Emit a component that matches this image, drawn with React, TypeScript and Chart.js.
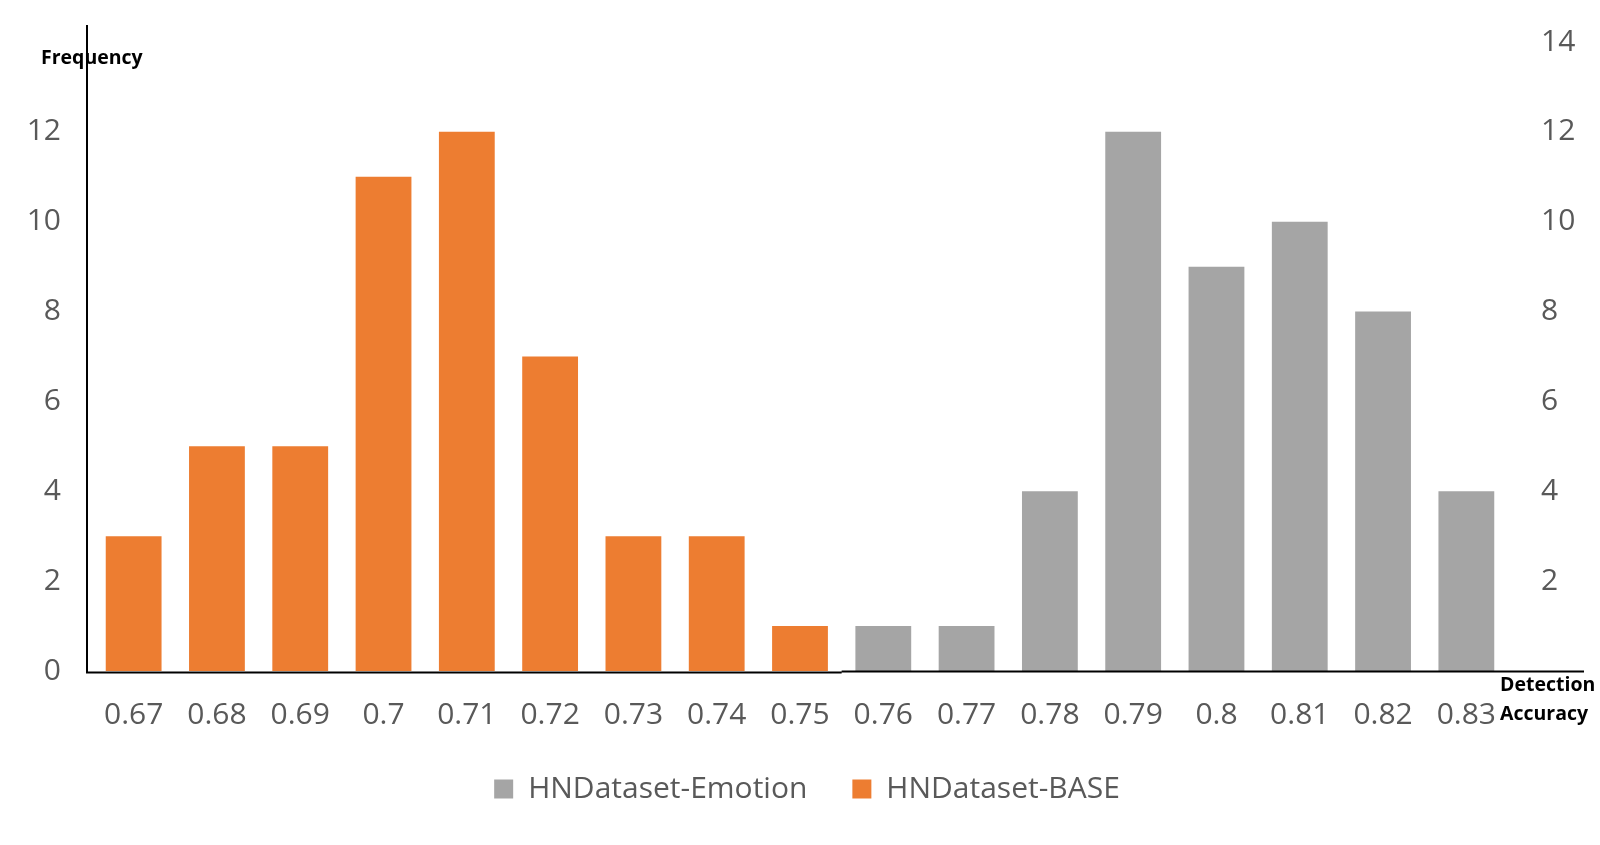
import { useEffect, useRef } from "react"
import { Chart, registerables } from "chart.js"

Chart.register(...registerables)

// Faixas de acurácia (eixo x)
const categories = [
  "0.67", "0.68", "0.69", "0.7", "0.71", "0.72", "0.73", "0.74", "0.75",
  "0.76", "0.77", "0.78", "0.79", "0.8", "0.81", "0.82", "0.83",
]

// Frequências por série (null onde a série não tem barra)
const baseValues = [3, 5, 5, 11, 12, 7, 3, 3, 1, null, null, null, null, null, null, null, null]
const emotionValues = [null, null, null, null, null, null, null, null, null, 1, 1, 4, 12, 9, 10, 8, 4]

const leftTicks = [0, 2, 4, 6, 8, 10, 12]
const rightTicks = [2, 4, 6, 8, 10, 12, 14]

const FONT = "'Open Sans', 'Noto Sans', sans-serif"
const GREY_TEXT = "#595959"

// Desenha as linhas dos eixos e os títulos horizontais
const axisDecor = {
  id: "axisDecor",
  afterDraw(chart: Chart) {
    const { ctx, chartArea } = chart
    const b = chartArea.bottom
    const split = chart.scales.x.getPixelForValue(8.5)
    ctx.save()
    ctx.strokeStyle = "#000"
    ctx.lineWidth = 2
    ctx.beginPath()
    ctx.moveTo(87, 25)
    ctx.lineTo(87, b + 2)
    ctx.moveTo(86, b + 1.5)
    ctx.lineTo(split, b + 1.5)
    ctx.moveTo(split, b + 0.5)
    ctx.lineTo(1584, b + 0.5)
    ctx.stroke()

    ctx.fillStyle = "#000"
    ctx.font = `bold 19.5px ${FONT}`
    ctx.textBaseline = "middle"
    ctx.textAlign = "left"
    ctx.fillText("Frequency", 41, 58)
    ctx.fillText("Detection", 1500, 685)
    ctx.fillText("Accuracy", 1500, 714)
    ctx.restore()
  },
}

// Remove o preenchimento vertical que o Chart.js soma às escalas y
const noVerticalPadding = (scale: any) => {
  scale.paddingTop = 0
  scale.paddingBottom = 0
}

export default function App() {
  const chartRef = useRef<HTMLCanvasElement>(null)
  const chartInstance = useRef<Chart | null>(null)

  useEffect(() => {
    if (!chartRef.current) return
    if (chartInstance.current) chartInstance.current.destroy()
    const ctx = chartRef.current.getContext("2d")
    if (!ctx) return

    chartInstance.current = new Chart(ctx, {
      type: "bar",
      data: {
        labels: categories,
        datasets: [
          {
            label: "HNDataset-Emotion",
            data: emotionValues,
            backgroundColor: "#A5A5A5",
            borderWidth: 0,
            yAxisID: "y",
          },
          {
            label: "HNDataset-BASE",
            data: baseValues,
            backgroundColor: "#ED7D31",
            borderWidth: 0,
            yAxisID: "y",
          },
        ],
      },
      options: {
        animation: false,
        responsive: true,
        maintainAspectRatio: false,
        layout: { padding: { top: 42, bottom: 31, left: 14, right: 0 } },
        datasets: {
          bar: {
            grouped: false,
            categoryPercentage: 0.67,
            barPercentage: 1,
          },
        },
        scales: {
          x: {
            grid: { display: false, drawTicks: false },
            border: { display: false },
            ticks: {
              color: GREY_TEXT,
              font: { family: FONT, size: 30 },
              padding: 26,
              maxRotation: 0,
              autoSkip: false,
            },
            afterFit: (scale: any) => {
              scale.height = 58
            },
          },
          y: {
            position: "left",
            min: 0,
            max: 14,
            grid: { display: false, drawTicks: false },
            border: { display: false },
            afterBuildTicks: (scale: any) => {
              scale.ticks = leftTicks.map((v) => ({ value: v }))
            },
            ticks: {
              color: GREY_TEXT,
              font: { family: FONT, size: 30 },
              padding: 31,
            },
            afterFit: (scale: any) => {
              scale.width = 78
              noVerticalPadding(scale)
            },
          },
          y1: {
            position: "right",
            min: 0,
            max: 14,
            grid: { display: false, drawTicks: false },
            border: { display: false },
            afterBuildTicks: (scale: any) => {
              scale.ticks = rightTicks.map((v) => ({ value: v }))
            },
            ticks: {
              color: GREY_TEXT,
              font: { family: FONT, size: 30 },
              padding: 33,
            },
            afterFit: (scale: any) => {
              scale.width = 92
              noVerticalPadding(scale)
            },
          },
        },
        plugins: {
          legend: {
            position: "bottom",
            labels: {
              color: GREY_TEXT,
              font: { family: FONT, size: 30 },
              boxWidth: 19,
              boxHeight: 19,
              padding: 45,
            },
          },
          tooltip: { enabled: false },
        },
      },
      plugins: [axisDecor],
    })

    return () => {
      if (chartInstance.current) {
        chartInstance.current.destroy()
        chartInstance.current = null
      }
    }
  }, [])

  return (
    <div style={{ position: "absolute", left: 0, top: 0, width: 1600, height: 845, background: "#fff" }}>
      <canvas ref={chartRef} />
    </div>
  )
}
